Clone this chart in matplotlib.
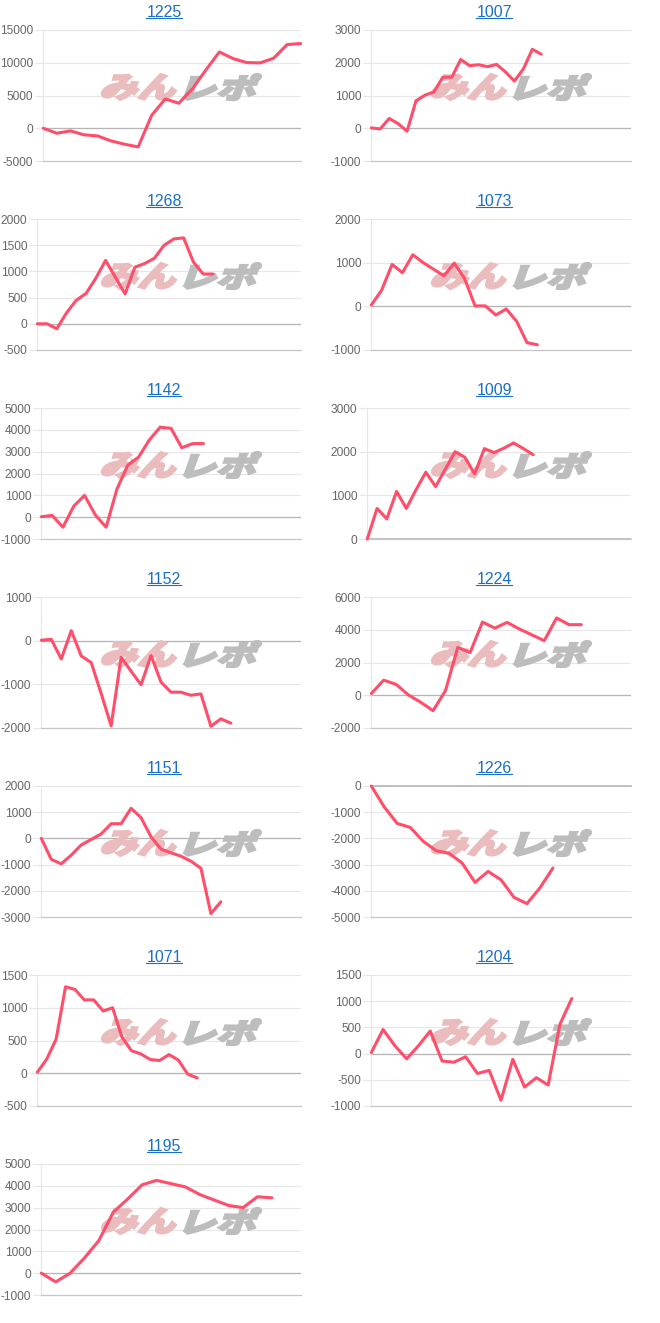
import matplotlib
matplotlib.use("Agg")
import matplotlib.pyplot as plt
from matplotlib.textpath import TextPath
from matplotlib.patches import PathPatch
from matplotlib.font_manager import FontProperties
from matplotlib.transforms import Affine2D, IdentityTransform
from matplotlib.lines import Line2D

plt.rcParams['font.family'] = ['Liberation Sans', 'DejaVu Sans']
plt.rcParams['axes.unicode_minus'] = False

# data (one list per machine)
titles = ["1225", "1007", "1268", "1073", "1142", "1009", "1152",
          "1224", "1151", "1226", "1071", "1204", "1195"]

s1225 = [0, -760, -400, -1000, -1170, -1930, -2440, -2850, 1980, 4480,
         3820, 6000, 8900, 11650, 10640, 10030, 9980, 10690, 12780, 12930]
s1007 = [10, -20, 300, 140, -90, 840, 1010, 1110, 1560, 1560, 2100, 1910,
         1940, 1880, 1950, 1720, 1440, 1810, 2410, 2260]
s1268 = [0, 0, -95, 210, 450, 580, 870, 1210, 890, 570, 1080, 1150, 1250,
         1500, 1620, 1640, 1180, 950, 950]
s1073 = [30, 370, 960, 770, 1180, 1000, 850, 700, 990, 630, 10, 10, -200,
         -60, -340, -830, -880]
s1142 = [20, 80, -460, 500, 1000, 100, -460, 1290, 2380, 2750, 3540, 4120,
         4070, 3180, 3370, 3370]
s1009 = [0, 700, 460, 1090, 700, 1130, 1530, 1200, 1600, 2000, 1870, 1490,
         2070, 1980, 2080, 2200, 2070, 1930]
s1152 = [10, 30, -420, 230, -350, -500, -1210, -1950, -380, -700, -1010,
         -340, -950, -1180, -1180, -1250, -1220, -1960, -1790, -1890]
s1224 = [100, 920, 670, 20, -430, -940, 270, 2920, 2610, 4470, 4100, 4450,
         4040, 3690, 3330, 4720, 4310, 4310]
s1151 = [0, -800, -970, -640, -250, -40, 170, 560, 560, 1150, 790, 60,
         -410, -550, -680, -870, -1140, -2870, -2420]
s1226 = [0, -800, -1430, -1580, -2110, -2470, -2570, -2940, -3680, -3260,
         -3580, -4250, -4490, -3890, -3130]
s1071 = [15, 215, 520, 1320, 1280, 1120, 1120, 950, 1000, 550, 345, 295,
         210, 195, 285, 200, -15, -70]
s1204 = [20, 460, 150, -100, 150, 430, -140, -165, -60, -380, -320, -890,
         -110, -640, -460, -600, 560, 1050]
s1195 = [0, -400, 0, 700, 1500, 2800, 3400, 4050, 4250, 4100, 3950, 3600,
         3350, 3100, 3000, 3500, 3450]

series = [s1225, s1007, s1268, s1073, s1142, s1009, s1152,
          s1224, s1151, s1226, s1071, s1204, s1195]

# number of x categories on each chart
n_slots = [20, 30, 28, 26, 25, 28, 27, 22, 27, 21, 29, 23, 19]

# y axis: min, max, step
y_axes = [(-5000, 15000, 5000), (-1000, 3000, 1000), (-500, 2000, 500),
          (-1000, 2000, 1000), (-1000, 5000, 1000), (0, 3000, 1000),
          (-2000, 1000, 1000), (-2000, 6000, 2000), (-3000, 2000, 1000),
          (-5000, 0, 1000), (-500, 1500, 500), (-1000, 1500, 500),
          (-1000, 5000, 1000)]

W, H = 660, 1323
fig = plt.figure(figsize=(W / 100, H / 100), dpi=100)

LINE = '#ff4d6a'
GRID = '#e6e6e6'
TITLE = '#1a6fc9'
cjk = FontProperties(family='Noto Sans CJK JP', weight='heavy')


def logo(ax, text, x0, y0, x1, y1, color):
    # stretch a slanted text path into a pixel box (top-left origin)
    tp = TextPath((0, 0), text, size=40, prop=cjk)
    sk = Affine2D().skew_deg(14, 0).transform_path(tp)
    ext = sk.get_extents()
    tr = (Affine2D().translate(-ext.x0, -ext.y0)
          .scale((x1 - x0) / ext.width, (y1 - y0) / ext.height)
          .translate(x0, H - y1))
    p = PathPatch(tr.transform_path(sk), facecolor=color, edgecolor=color, lw=1.6,
                  joinstyle='miter', transform=IdentityTransform(), zorder=1.8)
    ax.add_patch(p)


renderer = fig.canvas.get_renderer()

for i, (name, vals, n, (lo, hi, step)) in enumerate(zip(titles, series, n_slots, y_axes)):
    col, row = i % 2, i // 2
    px, py = 330 * col, 189 * row
    labels = [str(v) for v in range(lo, hi + 1, step)]
    wide = max(len(s) for s in labels)
    left = px + (37.3 if wide <= 4 else 41.3)
    if any(len(s) == 5 and not s.startswith('-') for s in labels):
        left = px + 43.3
    right = px + 300.7
    top, bottom = py + 30, py + 161
    ax = fig.add_axes([left / W, 1 - bottom / H, (right - left) / W, (bottom - top) / H])
    ax.set_facecolor('none')

    ax.plot(range(len(vals)), vals, color=LINE, lw=2.2, solid_joinstyle='round',
            solid_capstyle='round', zorder=3, clip_on=False)
    ax.set_xlim(0, n - 1)
    ax.set_ylim(lo, hi)
    ax.set_yticks(range(lo, hi + 1, step))
    ax.set_yticklabels(labels)
    ax.set_xticks([])
    ax.yaxis.grid(True, color=GRID, lw=0.8)
    if lo < 0 < hi:
        ax.axhline(0, color='#b5b5b5', lw=0.9, zorder=1.6)
    elif lo == 0:
        ax.axhline(0, color='#b5b5b5', lw=1.2, zorder=1.6)
    elif hi == 0:
        ax.axhline(0, color='#b5b5b5', lw=1.2, zorder=1.6, clip_on=False)
    ax.tick_params(axis='y', length=5.8, width=0.8, color=GRID, pad=1.5,
                   labelsize=8.6, labelcolor='#666666')
    for s in ['top', 'right']:
        ax.spines[s].set_visible(False)
    ax.spines['left'].set_color(GRID)
    ax.spines['left'].set_linewidth(0.8)
    ax.spines['bottom'].set_color('#c6c6c6')
    ax.spines['bottom'].set_linewidth(0.9)

    # watermark
    logo(ax, "みん", px + 102, py + 74, px + 176, py + 100, '#ebbcbe')
    logo(ax, "レポ", px + 184, py + 74, px + 261, py + 100, '#bdbdbd')

    # underlined title
    cx = px + 164
    t = fig.text(cx / W, 1 - (py + 16.7) / H, name, ha='center', va='baseline',
                 fontsize=11.5, color=TITLE)
    bb = t.get_window_extent(renderer)
    uy = 1 - (py + 18.0) / H
    fig.add_artist(Line2D([bb.x0 / W, bb.x1 / W], [uy, uy], color=TITLE, lw=0.8,
                          transform=fig.transFigure))

fig.savefig('out.png', dpi=100)
